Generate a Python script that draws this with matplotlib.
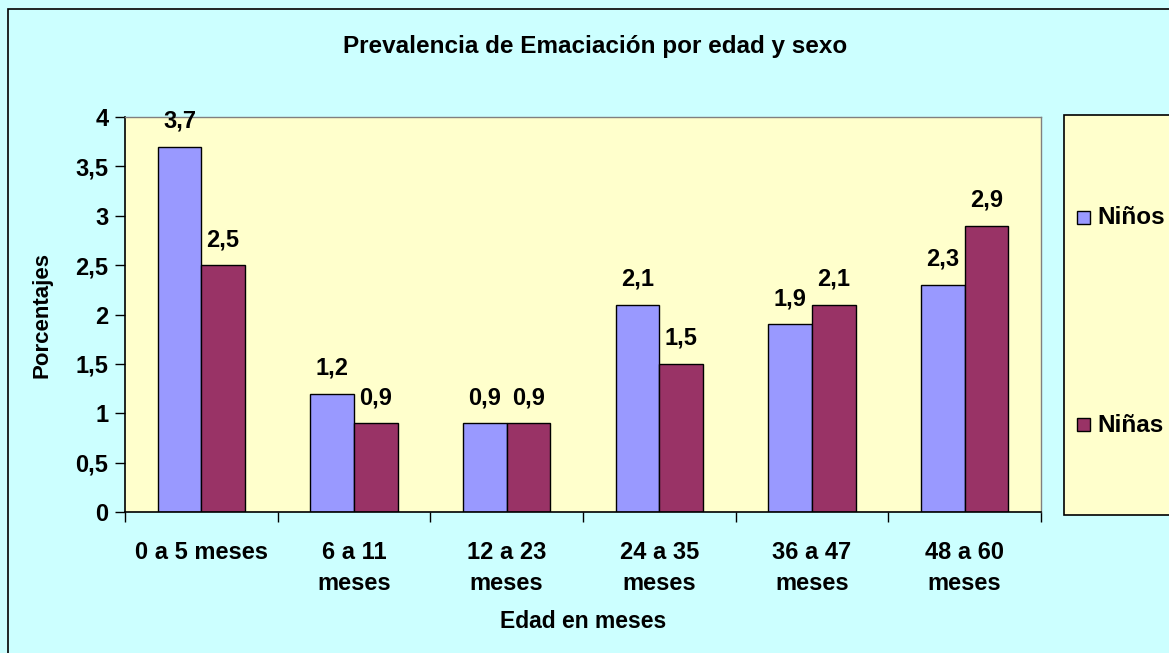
import numpy as np
import matplotlib
matplotlib.use("Agg")
import matplotlib.pyplot as plt
from matplotlib.patches import Rectangle

plt.rcParams['font.family'] = ['Liberation Sans', 'DejaVu Sans']
plt.rcParams['font.weight'] = 'bold'

categorias = ["0 a 5 meses", "6 a 11\nmeses", "12 a 23\nmeses",
              "24 a 35\nmeses", "36 a 47\nmeses", "48 a 60\nmeses"]
ninos = [3.7, 1.2, 0.9, 2.1, 1.9, 2.3]
ninas = [2.5, 0.9, 0.9, 1.5, 2.1, 2.9]
series = ["Niños", "Niñas"]
colores = ["#9999FF", "#993366"]
yticks = [0, 0.5, 1, 1.5, 2, 2.5, 3, 3.5, 4]

W, H = 1169, 653
fig = plt.figure(figsize=(W / 100, H / 100), dpi=100, facecolor="#CCFFFF")

# marco exterior (solo se ven los lados izquierdo y superior)
fig.patches.append(Rectangle((8 / W, -0.1), 1.2, 1 - 9 / H + 0.1, transform=fig.transFigure,
                             fill=False, edgecolor="black", linewidth=1.2))

ax = fig.add_axes([125 / W, (H - 512) / H, 916 / W, 395 / H])
ax.set_facecolor("#FFFFCC")

x = np.arange(len(categorias))
w = 0.285
b1 = ax.bar(x - w / 2, ninos, w, color=colores[0], edgecolor="black", linewidth=1.0)
b2 = ax.bar(x + w / 2, ninas, w, color=colores[1], edgecolor="black", linewidth=1.0)

def fmt(v):
    return ("%g" % v).replace(".", ",")

for bars, vals in ((b1, ninos), (b2, ninas)):
    ax.bar_label(bars, labels=[fmt(v) for v in vals], padding=10,
                 fontsize=17, fontweight="bold")

ax.set_xlim(-0.5, len(categorias) - 0.5)
ax.set_ylim(0, 4)
ax.set_yticks(yticks)
ax.set_yticklabels([fmt(v) for v in yticks], fontsize=17, fontweight="bold")
ax.tick_params(axis="y", direction="out", length=7, width=1, pad=5)

ax.set_xticks(x)
ax.set_xticklabels(categorias, fontsize=17, fontweight="bold", linespacing=1.45)
ax.tick_params(axis="x", which="major", length=0, pad=21)
ax.set_xticks(np.arange(-0.5, len(categorias)), minor=True)
ax.tick_params(axis="x", which="minor", direction="out", length=7, width=1)

for s in ("left", "bottom"):
    ax.spines[s].set_color("black")
    ax.spines[s].set_linewidth(1.2)
for s in ("top", "right"):
    ax.spines[s].set_color("#808080")
    ax.spines[s].set_linewidth(1.0)

ax.set_xlabel("Edad en meses", fontsize=16.5, fontweight="bold", va="center")
ax.xaxis.set_label_coords(0.5, (512 - 622) / 395)
ax.set_ylabel("Porcentajes", fontsize=16, fontweight="bold", va="center")
ax.yaxis.set_label_coords((42 - 125) / 916, 0.5)

fig.text(595 / W, 1 - 47 / H, "Prevalencia de Emaciación por edad y sexo",
         ha="center", va="center", fontsize=17.5, fontweight="bold")

# leyenda
fig.patches.append(Rectangle((1064 / W, 1 - 515 / H), 0.2, 400 / H,
                             transform=fig.transFigure, facecolor="#FFFFCC",
                             edgecolor="black", linewidth=1.2))
for nombre, color, yy in zip(series, colores, [218, 425]):
    fig.patches.append(Rectangle((1077 / W, 1 - (yy + 6) / H), 13 / W, 13 / H,
                                 transform=fig.transFigure, facecolor=color,
                                 edgecolor="black", linewidth=1.0))
    fig.text(1097 / W, 1 - yy / H, nombre, ha="left", va="center",
             fontsize=17.5, fontweight="bold")

fig.savefig("out.png", dpi=100, facecolor=fig.get_facecolor())
